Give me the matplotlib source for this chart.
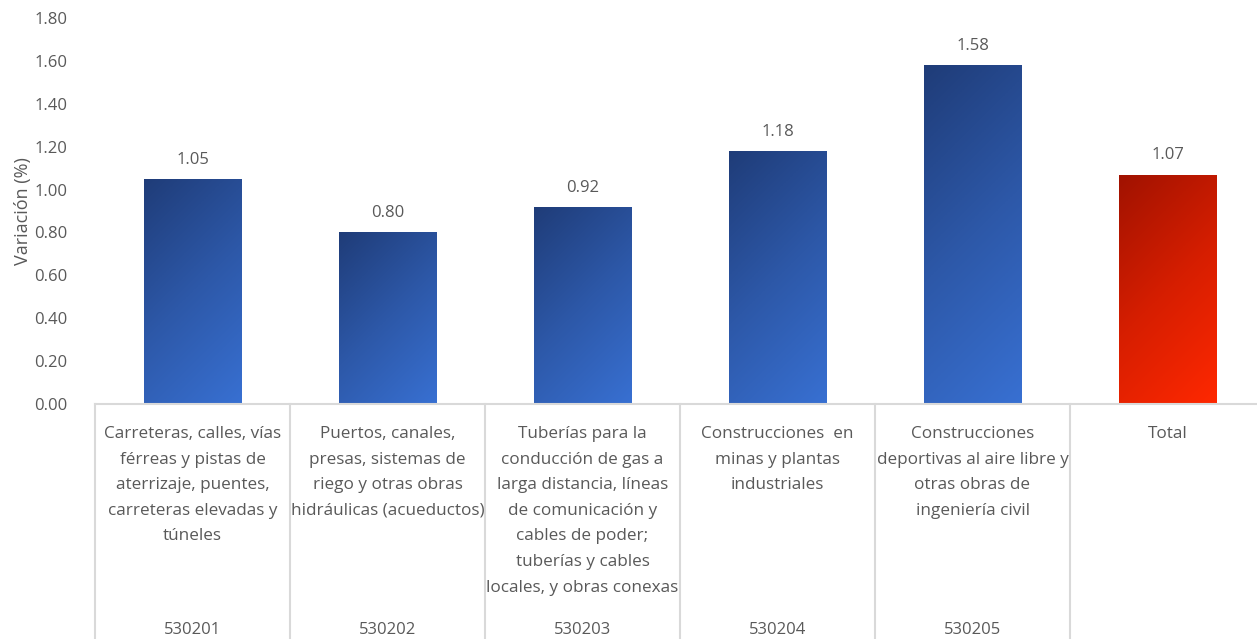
import matplotlib
matplotlib.use("Agg")
import matplotlib.pyplot as plt
import numpy as np
from matplotlib.colors import LinearSegmentedColormap
import matplotlib.transforms as mtransforms

categories = [
    "Carreteras, calles, vías\nférreas y pistas de\naterrizaje, puentes,\ncarreteras elevadas y\ntúneles",
    "Puertos, canales,\npresas, sistemas de\nriego y otras obras\nhidráulicas (acueductos)",
    "Tuberías para la\nconducción de gas a\nlarga distancia, líneas\nde comunicación y\ncables de poder;\ntuberías y cables\nlocales, y obras conexas",
    "Construcciones  en\nminas y plantas\nindustriales",
    "Construcciones\ndeportivas al aire libre y\notras obras de\ningeniería civil",
    "Total",
]
codes = ["530201", "530202", "530203", "530204", "530205", ""]
values = [1.05, 0.80, 0.92, 1.18, 1.58, 1.07]
is_total = [False, False, False, False, False, True]
yticks = [0.0, 0.2, 0.4, 0.6, 0.8, 1.0, 1.2, 1.4, 1.6, 1.8]

plt.rcParams['font.family'] = ['Open Sans', 'DejaVu Sans']
txt = '#595959'

fig = plt.figure(figsize=(12.57, 6.39), dpi=100)
ax = fig.add_axes([95/1257, (639-404)/639, 1170/1257, 386/639])

x = np.arange(len(values))
bars = ax.bar(x, values, width=0.5, color='none', edgecolor='none', zorder=2)

blue = LinearSegmentedColormap.from_list('b', ['#1f3c78', '#2d58a8', '#3870d2'])
red = LinearSegmentedColormap.from_list('r', ['#a01200', '#d61e00', '#ff2800'])

ax.set_xlim(-0.5, len(values) - 0.5)
ax.set_ylim(0, 1.8)

for b, tot in zip(bars, is_total):
    x0, y0 = b.get_x(), b.get_y()
    w, h = b.get_width(), b.get_height()
    n = 200
    u = np.linspace(0, 1, n)[None, :]
    v = np.linspace(0, 1, n)[:, None]
    pw, ph = 97.0, h * 214.4
    g = (u * pw + v * ph) / (pw + ph)
    cmap = red if tot else blue
    im = ax.imshow(g, cmap=cmap, extent=[x0, x0 + w, y0, y0 + h], origin='upper',
                   aspect='auto', zorder=2, interpolation='bilinear')
    im.set_clip_path(b)

ax.set_xlim(-0.5, len(values) - 0.5)
ax.set_ylim(0, 1.8)

for xi, v in zip(x, values):
    ax.annotate(f"{v:.2f}", (xi, v), xytext=(0, 8), textcoords='offset points',
                ha='center', va='bottom', fontsize=12, color=txt)

ax.set_yticks(yticks)
ax.set_yticklabels([f"{t:.2f}" for t in yticks], fontsize=12, color=txt)
ax.tick_params(axis='y', length=0, pad=20)
ax.set_xticks([])
ax.set_ylabel("Variación (%)", fontsize=13, color=txt)
ax.yaxis.set_label_coords(-0.054, 0.5)

for s in ['top', 'right', 'left']:
    ax.spines[s].set_visible(False)
ax.spines['bottom'].set_color('#d9d9d9')
ax.spines['bottom'].set_linewidth(1.5)

trans = mtransforms.blended_transform_factory(ax.transData, ax.transAxes)
for xi in np.arange(-0.5, len(values), 1.0):
    ax.plot([xi, xi], [0, -0.62], transform=trans, color='#d9d9d9', lw=1.5,
            clip_on=False, zorder=1)

for xi, c, code in zip(x, categories, codes):
    ax.text(xi, -0.057, c, transform=trans, ha='center', va='top', fontsize=12.3,
            color=txt, linespacing=1.8)
    if code:
        ax.text(xi, -0.585, code, transform=trans, ha='center', va='center',
                fontsize=12, color=txt)

fig.savefig('out.png', dpi=100)
